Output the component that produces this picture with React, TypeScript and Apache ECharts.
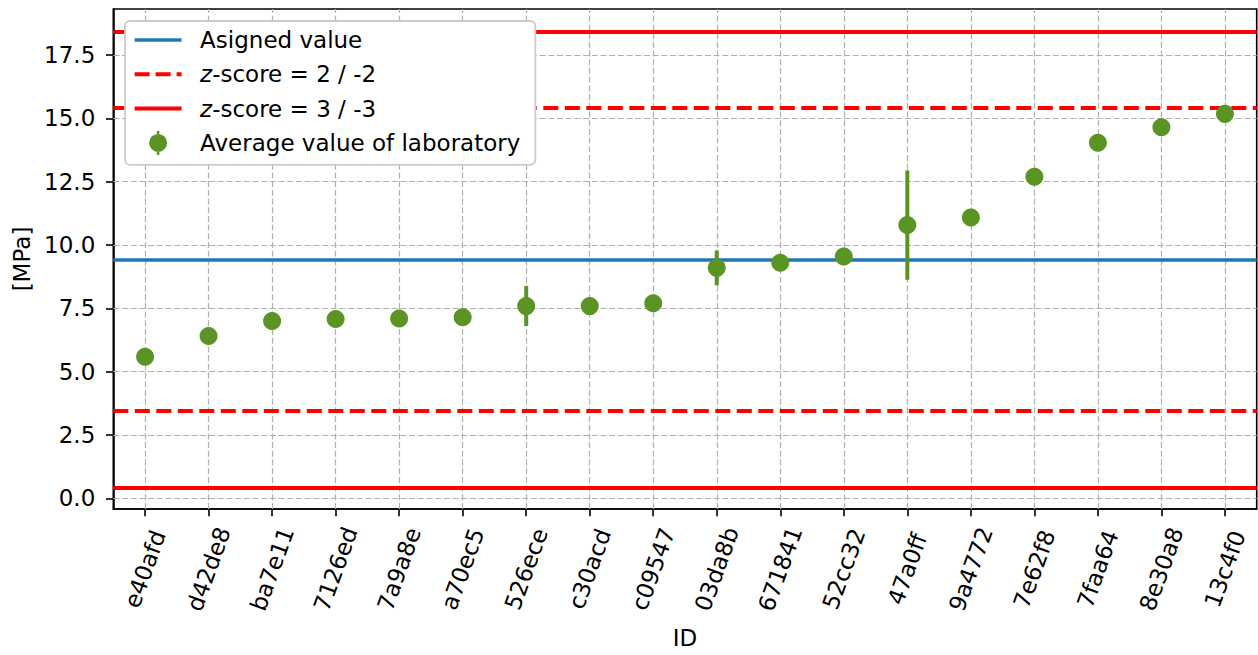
import React, { useEffect, useRef } from "react";
import * as echarts from "echarts";

const categories = [
  "e40afd", "d42de8", "ba7e11", "7126ed", "7a9a8e", "a70ec5", "526ece", "c30acd", "c09547",
  "03da8b", "671841", "52cc32", "47a0ff", "9a4772", "7e62f8", "7faa64", "8e30a8", "13c4f0",
];
const labMeans = [5.59, 6.41, 7.0, 7.08, 7.1, 7.15, 7.59, 7.59, 7.7, 9.1, 9.3, 9.55, 10.79, 11.09, 12.7, 14.04, 14.65, 15.18];
const labErrors = [0, 0, 0, 0, 0, 0, 0.79, 0, 0, 0.69, 0, 0, 2.16, 0, 0, 0, 0, 0];
const assignedValue = [9.435];
const zScore2Lines = [15.435, 3.435];
const zScore3Lines = [18.435, 0.435];
const yTicks = [0, 2.5, 5, 7.5, 10, 12.5, 15, 17.5];

const FONT = "DejaVu Sans";
const FS = 23;
const GREEN = "#5a9423";
const BLUE = "#1f77b4";
const RED = "#ff0000";
const GRIDC = "#b0b0b0";

const iconSolid = (t: number) =>
  `path://M0,0M47,24M0,${12 - t / 2}h47v${t}h-47z`;
const iconDashed =
  "path://M0,0M47,24M0,10h15v4h-15zM21,10h15v4h-15zM42,10h5v4h-5z";
const iconPoint =
  "path://M0,0M47,24M14.5,12A9,9 0 1,0 32.5,12A9,9 0 1,0 14.5,12ZM22.25,0h2.5v3.2h-2.5zM22.25,20.8h2.5v3.2h-2.5z";

export default function App() {
  const ref = useRef<HTMLDivElement>(null);
  useEffect(() => {
    if (!ref.current) return;
    const chart = echarts.init(ref.current, undefined, { renderer: "svg" });
    const noLabel = { show: false };
    const mlBase = {
      silent: true,
      symbol: ["none", "none"],
      label: noLabel,
      emphasis: { disabled: true },
      animation: false,
    };
    const errData = categories
      .map((c, i) => (labErrors[i] > 0 ? [i, labMeans[i] - labErrors[i], labMeans[i] + labErrors[i]] : null))
      .filter((d) => d !== null);

    chart.setOption({
      animation: false,
      textStyle: { fontFamily: FONT },
      grid: {
        left: 113.3,
        top: 9,
        width: 1143.4,
        height: 500,
        show: true,
        borderColor: "#000",
        borderWidth: 1.6,
        backgroundColor: "transparent",
        containLabel: false,
      },
      legend: {
        z: 20,
        orient: "vertical",
        left: 125,
        top: 21,
        itemWidth: 47,
        itemHeight: 24,
        itemGap: 8.3,
        padding: [6, 15, 9, 9.6],
        backgroundColor: "#ffffff",
        borderColor: "#cccccc",
        borderWidth: 1.8,
        borderRadius: 5,
        selectedMode: false,
        itemStyle: { borderWidth: 0 },
        textStyle: {
          fontFamily: FONT,
          fontSize: FS,
          color: "#000",
          lineHeight: 26,
          padding: [0, 0, 0, 13.5],
          rich: { i: { fontStyle: "italic", fontFamily: FONT, fontSize: FS, color: "#000", lineHeight: 26 } },
        },
        formatter: (name: string) => name.replace(/^z-score/, "{i|z}-score"),
        data: [
          { name: "Asigned value", icon: iconSolid(3.5), itemStyle: { color: BLUE } },
          { name: "z-score = 2 / -2", icon: iconDashed, itemStyle: { color: RED } },
          { name: "z-score = 3 / -3", icon: iconSolid(4), itemStyle: { color: RED } },
          { name: "Average value of laboratory", icon: iconPoint, itemStyle: { color: GREEN } },
        ],
      },
      xAxis: {
        type: "category",
        data: categories,
        boundaryGap: true,
        name: "ID",
        nameLocation: "middle",
        nameGap: 117,
        nameTextStyle: { fontFamily: FONT, fontSize: FS, color: "#000" },
        axisLine: { show: true, onZero: false, lineStyle: { color: "#000", width: 1.6 } },
        axisTick: { show: true, alignWithLabel: true, length: 7.3, lineStyle: { color: "#000", width: 1.6 }, interval: 0 },
        axisLabel: {
          interval: 0,
          rotate: 70,
          align: "center",
          verticalAlign: "middle",
          margin: 60,
          fontFamily: FONT,
          fontSize: FS,
          color: "#000",
        },
        splitLine: { show: false },
      },
      yAxis: {
        type: "value",
        min: -0.42,
        max: 19.32,
        name: "[MPa]",
        nameLocation: "middle",
        nameGap: 80,
        nameTextStyle: { fontFamily: FONT, fontSize: FS, color: "#000" },
        axisLine: { show: true, onZero: false, lineStyle: { color: "#000", width: 1.6 } },
        axisTick: { show: true, length: 7.3, customValues: yTicks, lineStyle: { color: "#000", width: 1.6 } },
        axisLabel: {
          customValues: yTicks,
          formatter: (v: number) => v.toFixed(1),
          margin: 18,
          fontFamily: FONT,
          fontSize: FS,
          color: "#000",
        },
        splitLine: { show: false },
      },
      series: [
        {
          name: "grid-lines",
          type: "line",
          data: [],
          z: 1,
          markLine: {
            ...mlBase,
            z: 1,
            lineStyle: { color: GRIDC, width: 1.2, type: [6, 2.7] },
            data: [
              ...categories.map((c) => ({ xAxis: c })),
              ...yTicks.map((v) => ({ yAxis: v })),
            ],
          },
        },
        {
          name: "Asigned value",
          type: "line",
          data: [],
          z: 2,
          color: BLUE,
          markLine: {
            ...mlBase,
            z: 2,
            lineStyle: { color: BLUE, width: 3.5, type: "solid" },
            data: assignedValue.map((v) => ({ yAxis: v })),
          },
        },
        {
          name: "z-score = 2 / -2",
          type: "line",
          data: [],
          z: 2,
          color: RED,
          markLine: {
            ...mlBase,
            z: 2,
            lineStyle: { color: RED, width: 4, type: [15, 6.5] },
            data: zScore2Lines.map((v) => ({ yAxis: v })),
          },
        },
        {
          name: "z-score = 3 / -3",
          type: "line",
          data: [],
          z: 2,
          color: RED,
          markLine: {
            ...mlBase,
            z: 2,
            lineStyle: { color: RED, width: 4, type: "solid" },
            data: zScore3Lines.map((v) => ({ yAxis: v })),
          },
        },
        {
          name: "error-bars",
          type: "custom",
          z: 3,
          silent: true,
          data: errData,
          encode: { x: 0, y: [1, 2] },
          renderItem: (params: any, api: any) => {
            const x = api.value(0);
            const lo = api.coord([x, api.value(1)]);
            const hi = api.coord([x, api.value(2)]);
            return {
              type: "line",
              shape: { x1: lo[0], y1: lo[1], x2: hi[0], y2: hi[1] },
              style: { stroke: GREEN, lineWidth: 4 },
            };
          },
        },
        {
          name: "Average value of laboratory",
          type: "scatter",
          z: 4,
          color: GREEN,
          symbol: "circle",
          symbolSize: 18,
          itemStyle: { color: GREEN, opacity: 1 },
          data: labMeans,
        },
      ],
    });
    return () => chart.dispose();
  }, []);
  return (
    <div
      ref={ref}
      style={{ position: "fixed", left: 0, top: 0, width: 1258, height: 655, background: "#fff" }}
    />
  );
}
